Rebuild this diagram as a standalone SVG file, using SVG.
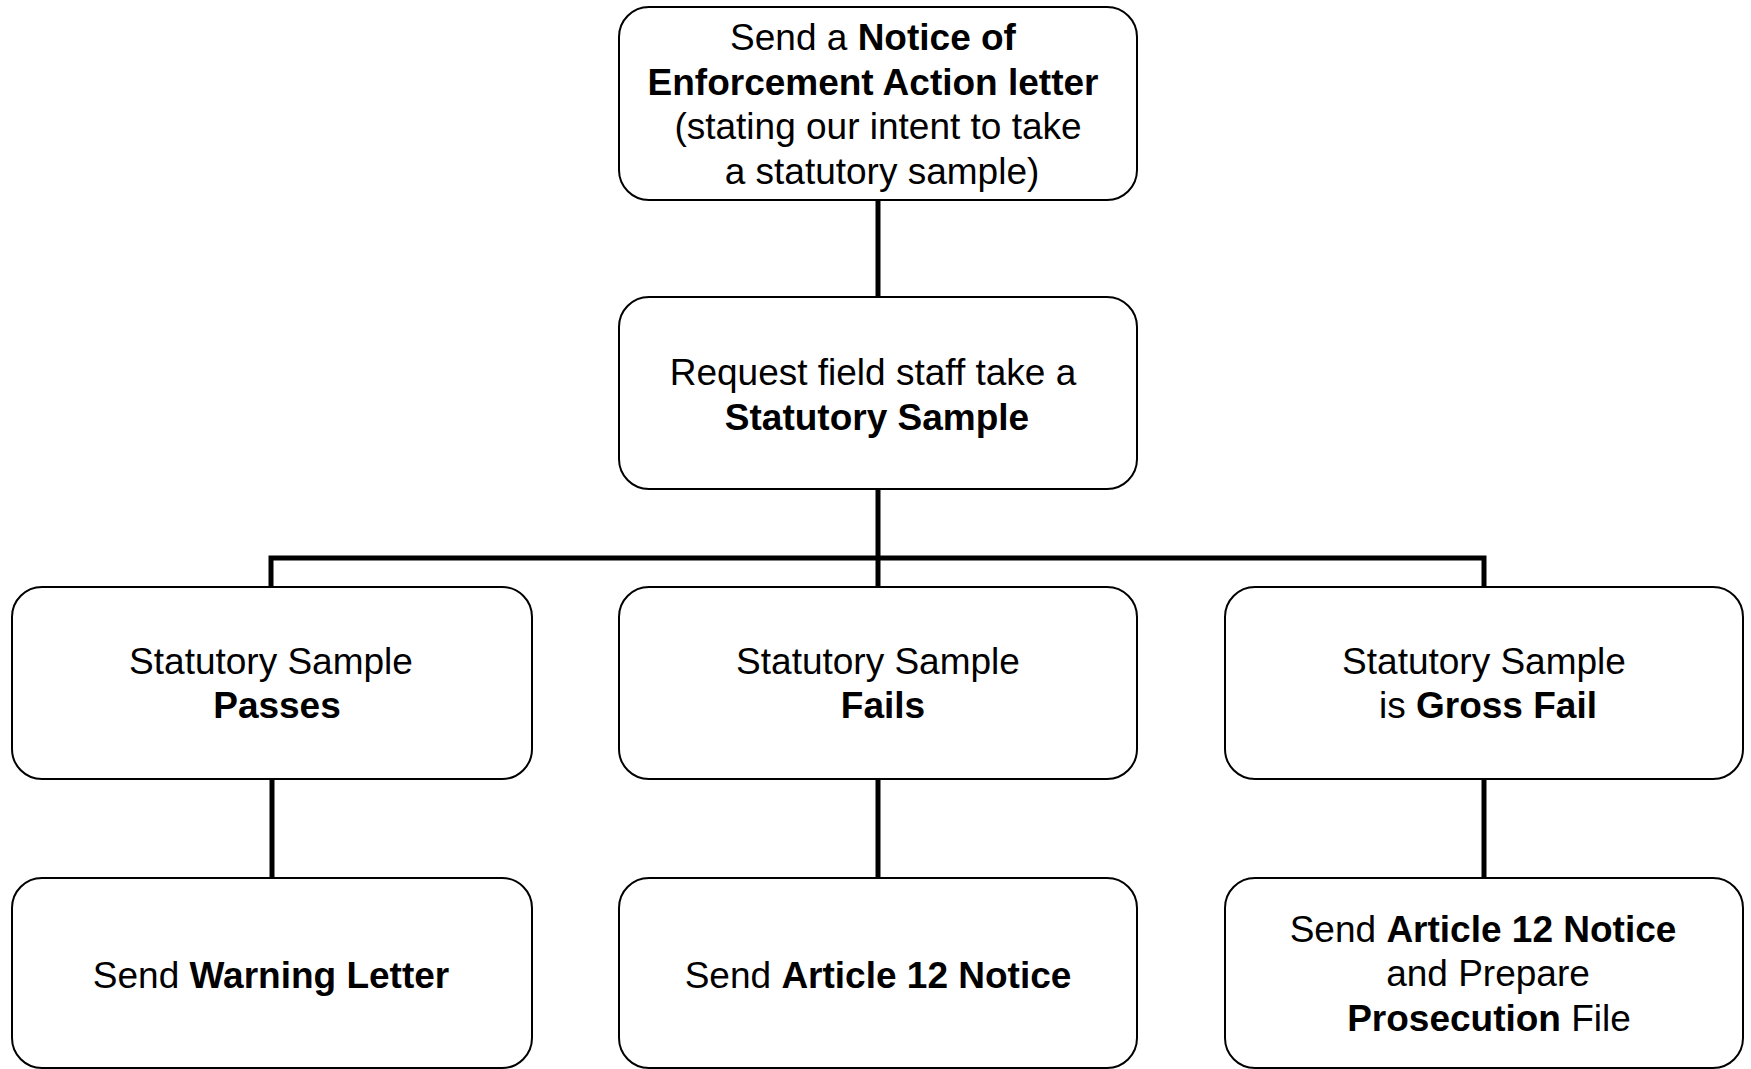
<svg xmlns="http://www.w3.org/2000/svg" width="1751" height="1069" viewBox="0 0 1751 1069">
<style>
.box{fill:#fff;stroke:#000;stroke-width:2}
.t{font-family:"Liberation Sans",Arial,sans-serif;font-size:37px;fill:#000;text-anchor:middle}
.b{font-weight:bold}
.c{stroke:#000;stroke-width:5;fill:none}
</style>
<rect width="1751" height="1069" fill="#fff"/>
<g id="connectors">
<line class="c" x1="878" y1="200" x2="878" y2="297"/>
<line class="c" x1="878" y1="489" x2="878" y2="587"/>
<polyline class="c" points="271,587 271,558 1484,558 1484,587"/>
<line class="c" x1="272" y1="779" x2="272" y2="878"/>
<line class="c" x1="878" y1="779" x2="878" y2="878"/>
<line class="c" x1="1484" y1="779" x2="1484" y2="878"/>
</g>
<g id="n1">
<rect class="box" x="619" y="7" width="518" height="193" rx="30"/>
<text class="t" x="873" y="50">Send a <tspan class="b">Notice of</tspan></text>
<text class="t b" x="873" y="95">Enforcement Action letter</text>
<text class="t" x="878" y="139">(stating our intent to take</text>
<text class="t" x="882" y="184">a statutory sample)</text>
</g>
<g id="n2">
<rect class="box" x="619" y="297" width="518" height="192" rx="30"/>
<text class="t" x="873" y="385">Request field staff take a</text>
<text class="t b" x="877" y="430">Statutory Sample</text>
</g>
<g id="n3">
<rect class="box" x="12" y="587" width="520" height="192" rx="30"/>
<text class="t" x="271" y="674">Statutory Sample</text>
<text class="t b" x="277" y="718">Passes</text>
</g>
<g id="n4">
<rect class="box" x="619" y="587" width="518" height="192" rx="30"/>
<text class="t" x="878" y="674">Statutory Sample</text>
<text class="t b" x="883" y="718">Fails</text>
</g>
<g id="n5">
<rect class="box" x="1225" y="587" width="518" height="192" rx="30"/>
<text class="t" x="1484" y="674">Statutory Sample</text>
<text class="t" x="1488" y="718">is <tspan class="b">Gross Fail</tspan></text>
</g>
<g id="n6">
<rect class="box" x="12" y="878" width="520" height="190" rx="30"/>
<text class="t" x="271" y="988">Send <tspan class="b">Warning Letter</tspan></text>
</g>
<g id="n7">
<rect class="box" x="619" y="878" width="518" height="190" rx="30"/>
<text class="t" x="878" y="988">Send <tspan class="b">Article 12 Notice</tspan></text>
</g>
<g id="n8">
<rect class="box" x="1225" y="878" width="518" height="190" rx="30"/>
<text class="t" x="1483" y="942">Send <tspan class="b">Article 12 Notice</tspan></text>
<text class="t" x="1488" y="986">and Prepare</text>
<text class="t" x="1489" y="1031"><tspan class="b">Prosecution</tspan> File</text>
</g>
</svg>
